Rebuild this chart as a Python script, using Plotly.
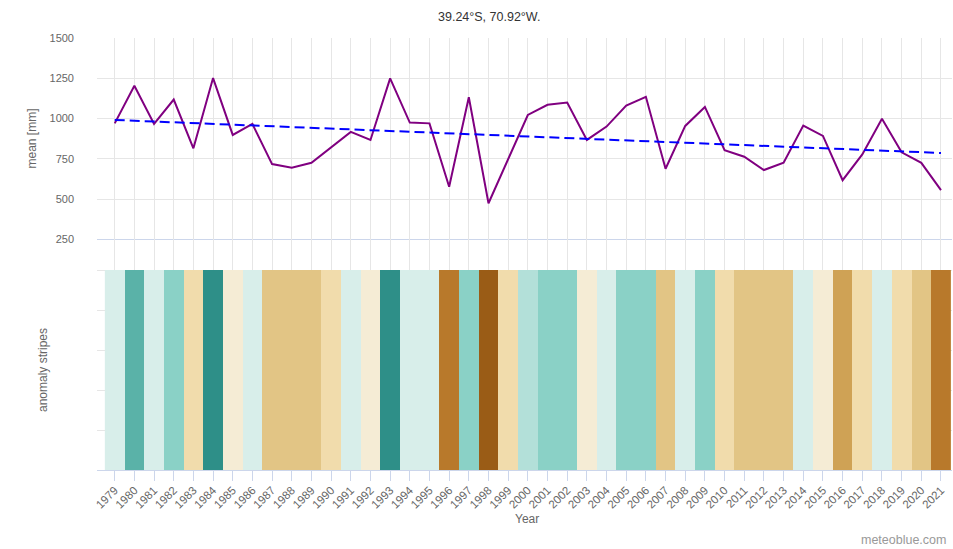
import plotly.graph_objects as go

# ---------------- data ----------------
years = list(range(1979, 2022))
mean_mm = [970, 1203, 966, 1118, 815, 1251, 898, 966, 717, 694,
           725, 823, 917, 867, 1249, 975, 970, 576, 1132, 474,
           748, 1022, 1085, 1099, 867, 950, 1081, 1135, 688, 954,
           1072, 804, 763, 680, 725, 956, 892, 617, 777, 998,
           790, 725, 555]
trend_years = [1979, 2021]
trend_mm = [991, 786]
# anomaly class of each stripe (-5 = very dry ... +5 = very wet)
stripe_level = [1, 4, 1, 3, -1, 5, 0, 1, -2, -2,
                -2, -1, 1, 0, 5, 1, 1, -4, 3, -5,
                -1, 2, 3, 3, 0, 1, 3, 3, -2, 1,
                3, -1, -2, -2, -2, 1, 0, -3, -1, 1,
                -1, -2, -4]
level_colors = ["#9a5c16", "#b8792b", "#cfa255", "#e2c585", "#f1dcac", "#f5ecd5",
                "#d8eeea", "#b3e0d9", "#8ad1c6", "#5ab2a8", "#2e8f88"]
y_ticks = [250, 500, 750, 1000, 1250, 1500]

# ---------------- geometry ----------------
W, H = 953, 549
ML, MR, MT, MB = 97, 1, 38, 79
PW, PH = W - ML - MR, H - MT - MB
split_px = 239.3  # bottom of upper panel


def px_x(px):
    return (px - ML) / PW


def px_y(py):
    return (H - MB - py) / PH


split = px_y(split_px)
FONT = "Liberation Sans, Arial, sans-serif"
GRID = "#e6e6e6"
AXLINE = "#ccd6eb"

n = len(level_colors)
cscale = []
for i, c in enumerate(level_colors):
    cscale.append([i / n, c])
    cscale.append([(i + 1) / n, c])

fig = go.Figure()
fig.add_trace(go.Scatter(x=years, y=mean_mm, mode="lines",
                         line=dict(color="#800080", width=2),
                         xaxis="x", yaxis="y", showlegend=False))
fig.add_trace(go.Scatter(x=trend_years, y=trend_mm, mode="lines",
                         line=dict(color="#0000ff", width=2, dash="10px,5px"),
                         xaxis="x", yaxis="y", showlegend=False))
fig.add_trace(go.Heatmap(z=[stripe_level], x=years, y0=2.5, dy=5,
                         zmin=-5.5, zmax=5.5, colorscale=cscale, showscale=False,
                         xaxis="x2", yaxis="y2"))

xr = [1978.1, 2021.56]
fig.update_layout(
    width=W, height=H,
    margin=dict(l=ML, r=MR, t=MT, b=MB),
    paper_bgcolor="white", plot_bgcolor="white",
    font=dict(family=FONT, color="#666666", size=11),
    xaxis=dict(domain=[0, 1], range=xr, anchor="y", tickmode="linear", tick0=1979, dtick=1,
               showticklabels=False, ticks="", showgrid=True, gridcolor=GRID,
               showline=True, linecolor=AXLINE, linewidth=1, zeroline=False),
    yaxis=dict(domain=[split, 1], range=[250, 1500], tickvals=y_ticks,
               showgrid=True, gridcolor=GRID, zeroline=False, ticks="",
               ticklabelstandoff=22, tickfont=dict(size=11, color="#666666")),
    xaxis2=dict(domain=[0, 1], range=xr, anchor="y2", tickmode="linear", tick0=1979, dtick=1,
                tickangle=-45, ticks="outside", ticklen=10, tickcolor=AXLINE,
                ticklabelstandoff=-2,
                showgrid=True, gridcolor=GRID, showline=True, linecolor=AXLINE,
                zeroline=False, tickfont=dict(size=11.5, color="#666666")),
    yaxis2=dict(domain=[0, split], range=[0, (H - MB - split_px) / 40.0], dtick=1,
                showticklabels=False, showgrid=True, gridcolor=GRID, zeroline=False,
                ticks=""),
)

ann = [
    dict(text="39.24°S, 70.92°W.", x=px_x(489), y=px_y(17), font=dict(size=12.5, color="#333333")),
    dict(text="mean [mm]", x=px_x(32), y=px_y(138.5), textangle=-90, font=dict(size=12, color="#666666")),
    dict(text="anomaly stripes", x=px_x(43), y=px_y(370), textangle=-90, font=dict(size=12, color="#666666")),
    dict(text="Year", x=px_x(527), y=px_y(519), font=dict(size=12, color="#666666")),
    dict(text="meteoblue.com", x=px_x(948), y=px_y(540), xanchor="right", font=dict(size=12.5, color="#999999")),
]
for a in ann:
    a.update(xref="paper", yref="paper", showarrow=False)
    a.setdefault("xanchor", "center")
    a["yanchor"] = "middle"
fig.update_layout(annotations=ann)

fig.write_html("out.html", config={"displayModeBar": False},
               post_script="document.body.style.margin='0';document.body.style.overflow='hidden';")
